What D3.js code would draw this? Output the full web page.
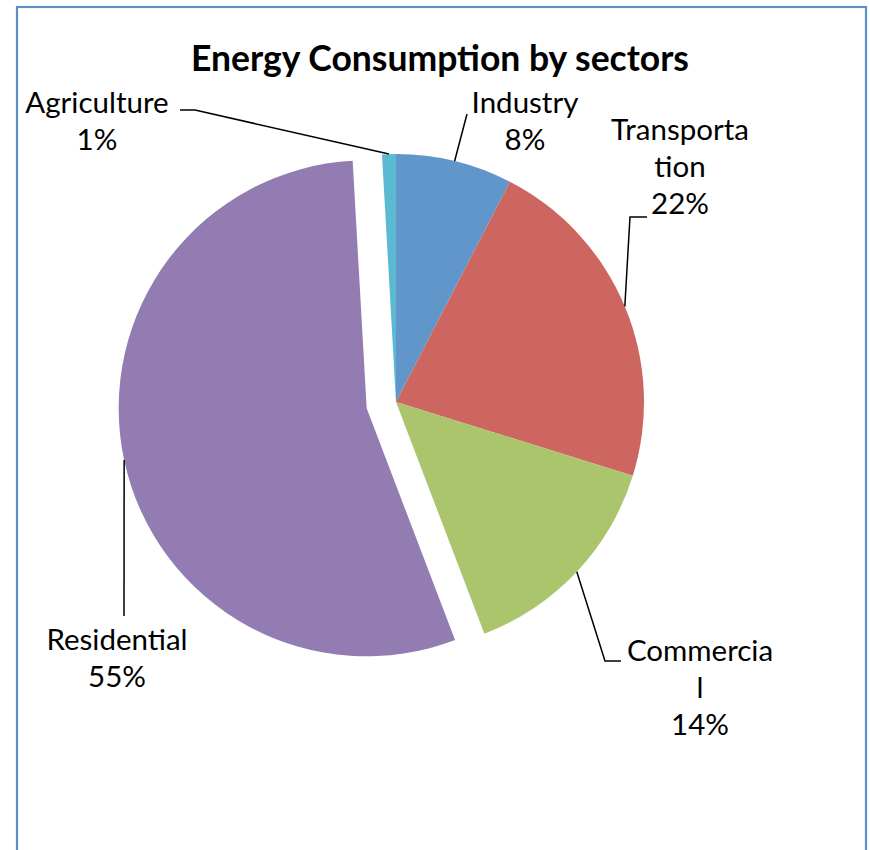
<!DOCTYPE html>
<html>
<head>
<meta charset="utf-8">
<script src="https://cdn.jsdelivr.net/npm/d3@7"></script>
<style>
  html, body { margin: 0; padding: 0; background: #fff; }
  svg { display: block; }
</style>
</head>
<body>
<svg id="chart" width="870" height="850"></svg>
<script>
// ---- data ----
const title = "Energy Consumption by sectors";
const categories = ["Industry", "Transportation", "Commercial", "Residential", "Agriculture"];
const values = [7.6, 22.2, 14.4, 54.9, 0.9];
// label text as wrapped in the original (category name lines)
const labelLines = [["Industry"], ["Transporta", "tion"], ["Commercia", "l"], ["Residential"], ["Agriculture"]];
const colors = ["#6096CA", "#CD6661", "#ABC56D", "#937CB2", "#5BBAD1"];
const explodedCategory = "Residential";

// ---- layout ----
const W = 870, H = 850;
const cx = 396, cy = 402, R = 248, explode = 30;
const lineH = 37;
// label anchors (centre x, baseline of first line) and leader elbows
const labelLayout = {
  "Industry":       { x: 525, y: 113, elbow: [[467, 114]] },
  "Transportation": { x: 680, y: 140, elbow: [[630, 217], [647, 217]] },
  "Commercial":     { x: 700, y: 661, elbow: [[605, 661], [621, 661]] },
  "Residential":    { x: 117, y: 650, elbow: [[124, 616]] },
  "Agriculture":    { x: 97,  y: 113, elbow: [[195, 110], [180, 110]] }
};

const svg = d3.select("#chart");

// border
svg.append("rect")
  .attr("x", 17).attr("y", 7)
  .attr("width", 849).attr("height", 900)
  .attr("fill", "#fff")
  .attr("stroke", "#5B8FC8")
  .attr("stroke-width", 2.2);

// title
svg.append("text")
  .attr("x", 440).attr("y", 71)
  .attr("text-anchor", "middle")
  .attr("font-family", "Lato, 'Open Sans', sans-serif")
  .attr("font-weight", "bold")
  .attr("font-size", 35.5)
  .attr("fill", "#000")
  .text(title);

const data = categories.map((c, i) => ({ name: c, value: values[i], lines: labelLines[i], color: colors[i] }));
const total = d3.sum(values);

const pie = d3.pie().sort(null).value(d => d.value).startAngle(0).endAngle(2 * Math.PI);
const arcs = pie(data);
const arc = d3.arc().innerRadius(0).outerRadius(R);

function offsetOf(a) {
  if (a.data.name !== explodedCategory) return [0, 0];
  const m = (a.startAngle + a.endAngle) / 2;
  return [explode * Math.sin(m), -explode * Math.cos(m)];
}

const g = svg.append("g").attr("transform", `translate(${cx},${cy})`);
g.selectAll("path.slice")
  .data(arcs)
  .join("path")
  .attr("class", "slice")
  .attr("transform", d => { const o = offsetOf(d); return `translate(${o[0]},${o[1]})`; })
  .attr("d", arc)
  .attr("fill", d => d.data.color);

// leader lines
const line = d3.line();
arcs.forEach(a => {
  const m = (a.startAngle + a.endAngle) / 2;
  const o = offsetOf(a);
  const start = [cx + o[0] + R * Math.sin(m), cy + o[1] - R * Math.cos(m)];
  const L = labelLayout[a.data.name];
  svg.append("path")
    .attr("d", line([start, ...L.elbow]))
    .attr("fill", "none")
    .attr("stroke", "#000")
    .attr("stroke-width", 1.5);

  const t = svg.append("text")
    .attr("text-anchor", "middle")
    .attr("font-family", "Lato, 'Open Sans', sans-serif")
    .attr("font-size", 29.5)
    .attr("fill", "#000");
  const lines = [...a.data.lines, Math.round(a.data.value / total * 100) + "%"];
  lines.forEach((s, i) => {
    t.append("tspan").attr("x", L.x).attr("y", L.y + i * lineH).text(s);
  });
});
</script>
</body>
</html>
